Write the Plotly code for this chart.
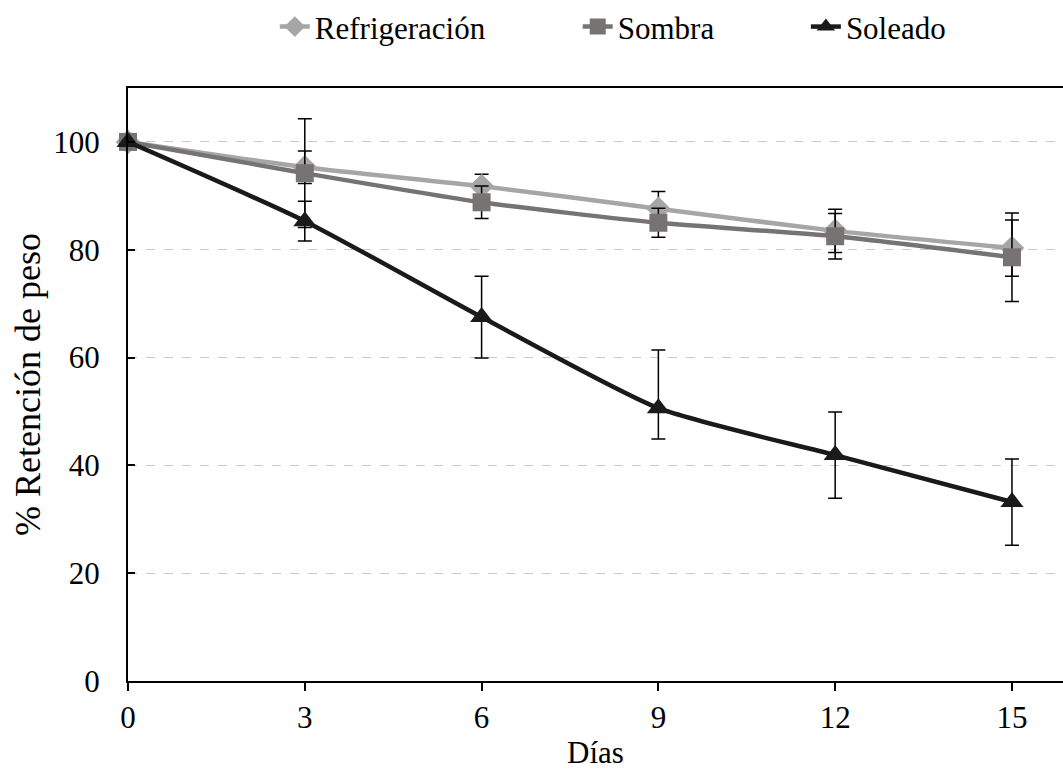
import plotly.graph_objects as go

dias = [0, 3, 6, 9, 12, 15]

refrigeracion = [100, 95.3, 91.8, 87.6, 83.5, 80.3]
refrigeracion_err = [0, 3.0, 2.2, 3.2, 4.0, 5.2]

sombra = [100, 94.2, 88.8, 85.0, 82.5, 78.6]
sombra_err = [0, 10.1, 3.0, 2.7, 4.2, 8.2]

soleado = [100, 85.3, 67.5, 50.6, 41.9, 33.2]
soleado_err_plus = [0, 3.7, 7.6, 10.8, 8.0, 8.0]
soleado_err_minus = [0, 3.7, 7.6, 5.7, 8.0, 8.0]

y_ticks = [0, 20, 40, 60, 80, 100]
x_ticks = [0, 3, 6, 9, 12, 15]

FONT = "Liberation Serif"
FS = 31

fig = go.Figure()

fig.add_trace(go.Scatter(
    x=dias, y=refrigeracion, name="Refrigeración", mode="lines+markers",
    line=dict(color="#A6A6A6", width=4.5, shape="spline", smoothing=0.6),
    marker=dict(symbol="diamond", size=19, color="#A6A6A6"),
    error_y=dict(type="data", array=refrigeracion_err, visible=True,
                 color="#000000", thickness=1.5, width=7),
    cliponaxis=False, legend="legend",
))
fig.add_trace(go.Scatter(
    x=dias, y=sombra, name="Sombra", mode="lines+markers",
    line=dict(color="#777373", width=4.5, shape="spline", smoothing=0.6),
    marker=dict(symbol="square", size=18, color="#777373"),
    error_y=dict(type="data", array=sombra_err, visible=True,
                 color="#000000", thickness=1.5, width=7),
    cliponaxis=False, legend="legend2",
))
fig.add_trace(go.Scatter(
    x=dias, y=soleado, name="Soleado", mode="lines+markers",
    line=dict(color="#1A1A1A", width=4.5, shape="spline", smoothing=0.6),
    marker=dict(symbol="triangle-up", size=20, color="#1A1A1A"),
    error_y=dict(type="data", symmetric=False, array=soleado_err_plus,
                 arrayminus=soleado_err_minus, visible=True,
                 color="#000000", thickness=1.5, width=7),
    cliponaxis=False, legend="legend3",
))

def leg(xpos):
    return dict(orientation="h", x=xpos, xanchor="left", y=1.103, yanchor="middle",
                font=dict(family=FONT, size=FS), bgcolor="rgba(0,0,0,0)")

fig.update_layout(
    width=1063, height=777,
    margin=dict(l=128, r=0, t=88, b=96, autoexpand=False),
    paper_bgcolor="white", plot_bgcolor="white",
    font=dict(family=FONT, size=FS, color="#000000"),
    legend=leg(0.157),
    legend2=leg(0.481),
    legend3=leg(0.725),
    showlegend=True,
)

fig.update_xaxes(
    range=[0, 15.866], tickvals=x_ticks, ticktext=[str(v) for v in x_ticks],
    showgrid=False, zeroline=False,
    showline=True, linecolor="#000000", linewidth=2, mirror=True,
    ticks="outside", ticklen=8, tickwidth=1.5, tickcolor="#000000",
    tickfont=dict(family=FONT, size=FS),
    title=dict(text="Días", font=dict(family=FONT, size=FS), standoff=7),
)
fig.update_yaxes(
    range=[0, 110], tickvals=y_ticks, ticktext=[str(v) for v in y_ticks],
    showgrid=True, gridcolor="#C8C8C8", griddash="dash", gridwidth=1.2,
    zeroline=False,
    showline=True, linecolor="#000000", linewidth=2, mirror=False,
    ticks="inside", ticklen=7, tickwidth=1.5, tickcolor="#000000",
    ticklabelstandoff=20,
    tickfont=dict(family=FONT, size=FS),
    title=dict(text="% Retención de peso", font=dict(family=FONT, size=36), standoff=2),
)

fig.write_html("out.html")
